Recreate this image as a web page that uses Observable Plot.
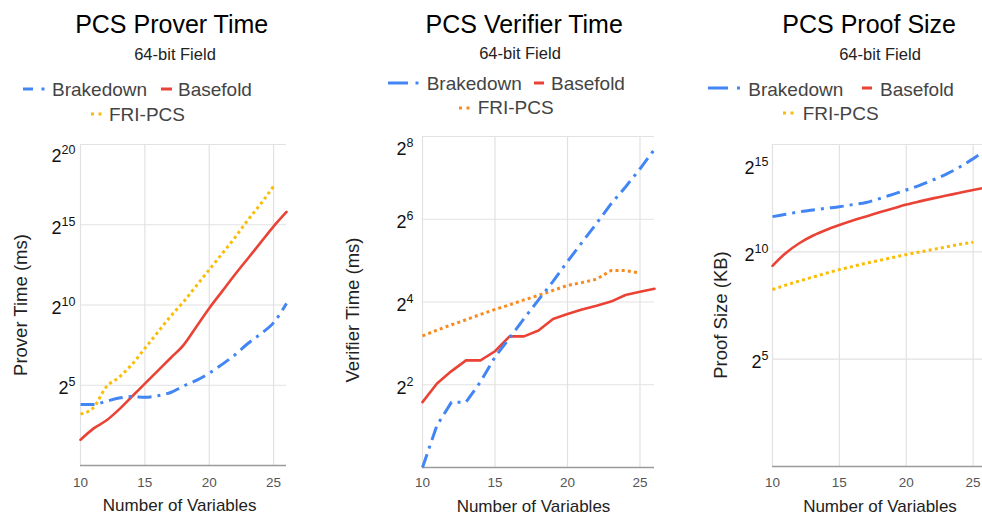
<!DOCTYPE html>
<html>
<head>
<meta charset="utf-8">
<script src="https://cdn.jsdelivr.net/npm/d3@7"></script>
<script src="https://cdn.jsdelivr.net/npm/@observablehq/plot@0.6"></script>
<style>
  html, body { margin: 0; padding: 0; background: #fff; }
  #root { position: relative; width: 982px; height: 516px; overflow: hidden; font-family: "Liberation Sans", Arial, sans-serif; }
  .panel { position: absolute; top: 120px; }
  #overlay { position: absolute; left: 0; top: 0; pointer-events: none; }
</style>
</head>
<body>
<div id="root"></div>
<script>
// ---------- data (log2 of the measured value) ----------
const variables = [10, 11, 12, 13, 14, 15, 16, 17, 18, 19, 20, 21, 22, 23, 24, 25, 26];
const variablesFri = [10, 11, 12, 13, 14, 15, 16, 17, 18, 19, 20, 21, 22, 23, 24, 25];
const xTicks = [10, 15, 20, 25];

// PCS Prover Time, log2(ms)
const proverBrakedown = [3.8, 3.8, 4.0, 4.2, 4.3, 4.25, 4.35, 4.55, 4.95, 5.3, 5.75, 6.3, 6.9, 7.6, 8.2, 8.9, 10.1];
const proverBasefold  = [1.6, 2.3, 2.8, 3.5, 4.3, 5.1, 5.9, 6.7, 7.5, 8.65, 9.8, 10.85, 11.9, 12.9, 13.9, 14.9, 15.8];
const proverFri       = [3.2, 3.6, 4.9, 5.5, 6.3, 7.3, 8.3, 9.3, 10.2, 11.2, 12.2, 13.2, 14.2, 15.3, 16.3, 17.4];
const proverTicks = [5, 10, 15, 20];

// PCS Verifier Time, log2(ms)
const verifierBrakedown = [0, 1.02, 1.58, 1.58, 2.07, 2.67, 3.13, 3.6, 4.05, 4.5, 4.98, 5.44, 5.9, 6.37, 6.78, 7.22, 7.69];
const verifierBasefold  = [1.58, 2.03, 2.33, 2.59, 2.59, 2.81, 3.17, 3.17, 3.31, 3.59, 3.71, 3.82, 3.91, 4.01, 4.17, 4.25, 4.32];
const verifierFri       = [3.18, 3.32, 3.45, 3.57, 3.7, 3.82, 3.93, 4.05, 4.16, 4.28, 4.4, 4.47, 4.55, 4.76, 4.76, 4.7];
const verifierTicks = [2, 4, 6, 8];

// PCS Proof Size, log2(KB)
const proofBrakedown = [11.64, 11.75, 11.86, 11.95, 12.03, 12.1, 12.2, 12.3, 12.48, 12.68, 12.88, 13.1, 13.35, 13.62, 13.95, 14.34, 14.75];
const proofBasefold  = [9.35, 9.95, 10.4, 10.75, 11.02, 11.25, 11.46, 11.65, 11.84, 12.02, 12.2, 12.35, 12.49, 12.62, 12.75, 12.88, 13.0];
const proofFri       = [8.24, 8.45, 8.64, 8.82, 9.0, 9.17, 9.32, 9.47, 9.6, 9.74, 9.87, 9.99, 10.11, 10.23, 10.35, 10.45];
const proofTicks = [5, 10, 15];

const seriesNames = ["Brakedown", "Basefold", "FRI-PCS"];
const titles = ["PCS Prover Time", "PCS Verifier Time", "PCS Proof Size"];
const subtitle = "64-bit Field";
const yTitles = ["Prover Time (ms)", "Verifier Time (ms)", "Proof Size (KB)"];
const xTitle = "Number of Variables";

// ---------- styles ----------
const BLUE = "#4285F4", RED = "#EA4335", YELLOW = "#FBBC04", ORANGE = "#F98B1E";
const FONT = "'Liberation Sans', Arial, sans-serif";

const rows = (xs, ys) => xs.map((x, i) => ({x, y: ys[i]}));

const panels = [
  {left: 0, marginLeft: 80, marginRight: 44, marginTop: 24, marginBottom: 51, yDomain: [0, 20], yTicks: proverTicks,
   data: [rows(variables, proverBrakedown), rows(variables, proverBasefold), rows(variablesFri, proverFri)],
   curve: "monotone-x", fri: YELLOW, yPad: 5, topShift: 12, xPad: 12},
  {left: 330, marginLeft: 92, marginRight: 6, marginTop: 16, marginBottom: 49, yDomain: [0, 8], yTicks: verifierTicks,
   data: [rows(variables, verifierBrakedown), rows(variables, verifierBasefold), rows(variablesFri, verifierFri)],
   curve: "linear", fri: ORANGE, yPad: 9, topShift: 13, xPad: 10},
  {left: 660, marginLeft: 112, marginRight: 4, marginTop: 24, marginBottom: 50, yDomain: [0, 15], yTicks: proofTicks,
   data: [rows(variables, proofBrakedown), rows(variables, proofBasefold), rows(variablesFri, proofFri)],
   curve: "monotone-x", fri: YELLOW, yPad: 4, topShift: 24, xPad: 11}
];

const root = document.getElementById("root");
const NS = "http://www.w3.org/2000/svg";

panels.forEach((p) => {
  const chart = Plot.plot({
    width: 330, height: 396,
    marginLeft: p.marginLeft, marginRight: p.marginRight, marginTop: p.marginTop, marginBottom: p.marginBottom,
    style: {fontFamily: FONT, background: "transparent", overflow: "visible"},
    x: {domain: [10, 26], label: null},
    y: {domain: p.yDomain, label: null},
    marks: [
      Plot.gridX({ticks: xTicks, stroke: "#e2e2e2", strokeOpacity: 1, strokeWidth: 1.2}),
      Plot.gridY({ticks: p.yTicks, stroke: "#e2e2e2", strokeOpacity: 1, strokeWidth: 1.2}),
      Plot.ruleY([p.yDomain[0]], {stroke: "#9a9a9a", strokeWidth: 1.5}),
      Plot.axisX({ticks: xTicks, tickSize: 0, tickPadding: p.xPad, fontSize: 13.5, fill: "#555", label: null}),
      Plot.axisY({ticks: p.yTicks, tickSize: 0, tickPadding: p.yPad, fontSize: 18, fill: "#111", label: null, tickFormat: (d) => String(d)}),
      Plot.line(p.data[2], {x: "x", y: "y", stroke: p.fri, strokeWidth: 3, strokeDasharray: "3,3.2", strokeLinecap: "butt", curve: p.curve}),
      Plot.line(p.data[1], {x: "x", y: "y", stroke: RED, strokeWidth: 2.6, curve: p.curve}),
      Plot.line(p.data[0], {x: "x", y: "y", stroke: BLUE, strokeWidth: 3, strokeDasharray: "14,6,3,6", strokeLinecap: "butt", curve: p.curve})
    ]
  });
  chart.classList.add("panel");
  chart.style.left = p.left + "px";
  root.appendChild(chart);

  // y tick labels as 2^n with a superscript exponent
  const maxTick = String(p.yTicks[p.yTicks.length - 1]);
  chart.querySelectorAll('g[aria-label="y-axis tick label"] text').forEach((t) => {
    const e = t.textContent;
    t.textContent = "";
    const base = document.createElementNS(NS, "tspan");
    base.textContent = "2";
    const sup = document.createElementNS(NS, "tspan");
    sup.setAttribute("font-size", "12.5");
    sup.setAttribute("dy", "-8");
    sup.textContent = e;
    t.appendChild(base);
    t.appendChild(sup);
    t.setAttribute("dy", e === maxTick ? p.topShift : 3);
  });
});

// ---------- titles, legends and axis titles ----------
const overlay = d3.select(root).append("svg")
  .attr("id", "overlay").attr("width", 982).attr("height", 516)
  .style("font-family", FONT);

const titleLayout = [
  {cx: 171.7, sx: 175, sy: 60},
  {cx: 524.2, sx: 520, sy: 59.3},
  {cx: 869.2, sx: 880, sy: 60}
];
titleLayout.forEach((t, i) => {
  overlay.append("text").attr("x", t.cx).attr("y", 32.7).attr("text-anchor", "middle")
    .attr("font-size", 25).attr("fill", "#000").text(titles[i]);
  overlay.append("text").attr("x", t.sx).attr("y", t.sy).attr("text-anchor", "middle")
    .attr("font-size", 16.5).attr("fill", "#222").text(subtitle);
});

const legendLayout = [
  {y1: 89, b1: 96, y2: 114, b2: 120.7, dash: [23, 33], dot: [41.5, 44.5], tb: 52, red: [161, 172], tr: 178, fri: [91, 101.5], tf: 109, friColor: YELLOW},
  {y1: 83, b1: 90, y2: 108, b2: 114.3, dash: [388, 408], dot: [415.5, 418.5], tb: 426.7, red: [534, 544], tr: 551, fri: [459, 469.5], tf: 477.7, friColor: ORANGE},
  {y1: 88, b1: 95.7, y2: 113, b2: 120, dash: [708, 728], dot: [737, 740], tb: 748.3, red: [862, 872], tr: 880, fri: [783, 793.5], tf: 802.7, friColor: YELLOW}
];
legendLayout.forEach((L) => {
  overlay.append("line").attr("x1", L.dash[0]).attr("x2", L.dash[1]).attr("y1", L.y1).attr("y2", L.y1)
    .attr("stroke", BLUE).attr("stroke-width", 3);
  overlay.append("line").attr("x1", L.dot[0]).attr("x2", L.dot[1]).attr("y1", L.y1).attr("y2", L.y1)
    .attr("stroke", BLUE).attr("stroke-width", 3);
  overlay.append("line").attr("x1", L.red[0]).attr("x2", L.red[1]).attr("y1", L.y1).attr("y2", L.y1)
    .attr("stroke", RED).attr("stroke-width", 3);
  overlay.append("line").attr("x1", L.fri[0]).attr("x2", L.fri[1]).attr("y1", L.y2).attr("y2", L.y2)
    .attr("stroke", L.friColor).attr("stroke-width", 3).attr("stroke-dasharray", "3,4.5");
  overlay.append("text").attr("x", L.tb).attr("y", L.b1).attr("font-size", 19).attr("fill", "#444").text(seriesNames[0]);
  overlay.append("text").attr("x", L.tr).attr("y", L.b1).attr("font-size", 19).attr("fill", "#444").text(seriesNames[1]);
  overlay.append("text").attr("x", L.tf).attr("y", L.b2).attr("font-size", 19).attr("fill", "#444").text(seriesNames[2]);
});

const axisTitleLayout = [
  {yx: 27, yy: 305, xx: 179.7, xy: 511},
  {yx: 358.5, yy: 310, xx: 533.5, xy: 512},
  {yx: 726.7, yy: 315, xx: 880, xy: 512}
];
axisTitleLayout.forEach((a, i) => {
  overlay.append("text").attr("transform", `translate(${a.yx},${a.yy}) rotate(-90)`)
    .attr("text-anchor", "middle").attr("font-size", 18.5).attr("fill", "#222").text(yTitles[i]);
  overlay.append("text").attr("x", a.xx).attr("y", a.xy).attr("text-anchor", "middle")
    .attr("font-size", 17).attr("fill", "#222").text(xTitle);
});
</script>
</body>
</html>
